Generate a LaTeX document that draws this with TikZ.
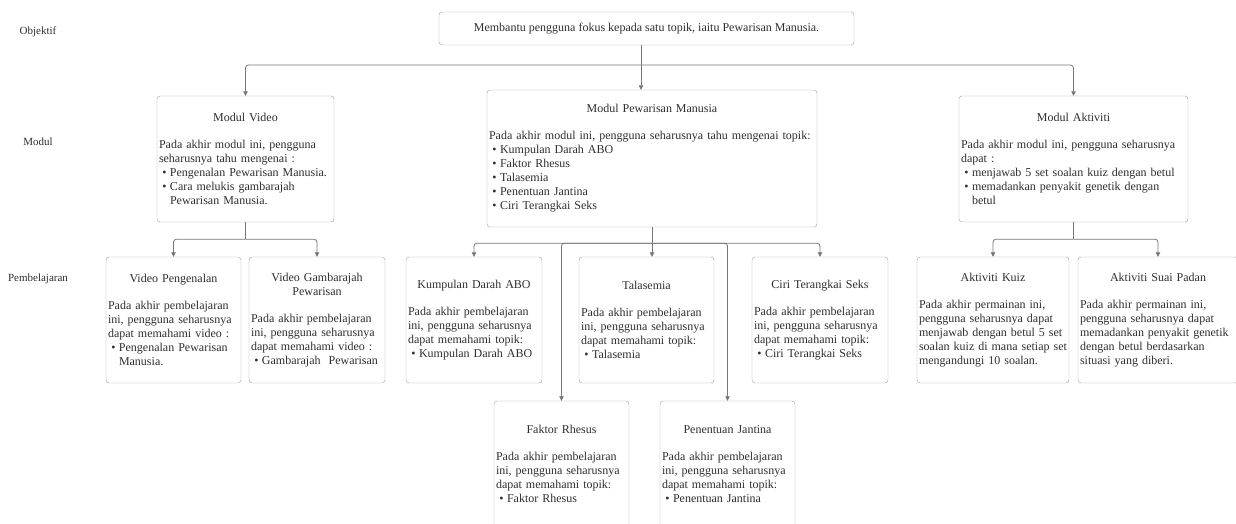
\documentclass[tikz,border=0pt]{standalone}
\usepackage{fontspec}
\setmainfont{Liberation Serif}
\usepackage{xcolor}
\usepackage{tikz}
\usetikzlibrary{arrows.meta, positioning}

\definecolor{textgray}{HTML}{2E2E2E}
\definecolor{boxgray}{HTML}{9C9C9C}
\definecolor{linegray}{HTML}{767676}

\newcommand{\boxfont}{\fontsize{12}{14}\selectfont}
\newcommand{\ttl}[1]{{\centering #1\par}\vspace{13pt}}
\newcommand{\bul}{\makebox[11pt][c]{\textbullet}}
\newcommand{\ind}{\hspace*{11pt}}

\tikzset{
  objbox/.style={rectangle, draw=boxgray, rounded corners=3pt, text=textgray,
                 minimum width=415pt, minimum height=33pt, font=\boxfont},
  modbox/.style={rectangle, draw=boxgray, rounded corners=3pt, text=textgray,
                 align=left, inner xsep=2pt, minimum height=126pt, font=\boxfont},
  learnbox/.style={modbox, text width=131pt},
  lanelabel/.style={font=\fontsize{11}{13}\selectfont, text=textgray},
}

\begin{document}
\begin{tikzpicture}[
  x=1pt, y=-1pt,
  link/.style={draw=linegray, line width=0.8pt, rounded corners=3pt},
  arrow/.style={link, -{Stealth[length=4.5pt, width=4.5pt, inset=0pt]}}
]
  \useasboundingbox (0,0) rectangle (1236,524);

  % Row labels
  \node (lobj) at (38,32) [lanelabel] {Objektif};
  \node (lmod) at (38,142) [lanelabel] {Modul};
  \node (lbel) at (38,279) [lanelabel] {Pembelajaran};

  % Objective
  \node (obj) at (646.5,28.5) [objbox] {Membantu pengguna fokus kepada satu topik, iaitu Pewarisan Manusia.};

  % Modules
  \node (mvideo) at (245.5,159) [modbox, text width=173pt] {\ttl{Modul Video}
    Pada akhir modul ini, pengguna\\
    seharusnya tahu mengenai :\\
    \bul Pengenalan Pewarisan Manusia.\\
    \bul Cara melukis gambarajah\\
    \ind Pewarisan Manusia.};
  \node (mpewaris) at (652,158.5) [modbox, text width=326pt, minimum height=137pt] {\ttl{Modul Pewarisan Manusia}
    Pada akhir modul ini, pengguna seharusnya tahu mengenai topik:\\
    \bul Kumpulan Darah ABO\\
    \bul Faktor Rhesus\\
    \bul Talasemia\\
    \bul Penentuan Jantina\\
    \bul Ciri Terangkai Seks};
  \node (maktiv) at (1073.5,159) [modbox, text width=225pt] {\ttl{Modul Aktiviti}
    Pada akhir modul ini, pengguna seharusnya\\
    dapat :\\
    \bul menjawab 5 set soalan kuiz dengan betul\\
    \bul memadankan penyakit genetik dengan\\
    \ind betul};

  % Learning units
  \node (vpengenal) at (173.5,320) [learnbox] {\ttl{Video Pengenalan}
    Pada akhir pembelajaran\\
    ini, pengguna seharusnya\\
    dapat memahami video :\\
    \bul Pengenalan Pewarisan\\
    \ind Manusia.};
  \node (vgambar) at (317,320) [learnbox, text width=132pt] {\ttl{Video Gambarajah\\Pewarisan}
    Pada akhir pembelajaran\\
    ini, pengguna seharusnya\\
    dapat memahami video :\\
    \bul Gambarajah\ \ Pewarisan};
  \node (kumpulan) at (474,320) [learnbox, text width=132pt] {\ttl{Kumpulan Darah ABO}
    Pada akhir pembelajaran\\
    ini, pengguna seharusnya\\
    dapat memahami topik:\\
    \bul Kumpulan Darah ABO};
  \node (talasemia) at (646.5,320) [learnbox] {\ttl{Talasemia}
    Pada akhir pembelajaran\\
    ini, pengguna seharusnya\\
    dapat memahami topik:\\
    \bul Talasemia};
  \node (ciri) at (820,320) [learnbox, text width=132pt] {\ttl{Ciri Terangkai Seks}
    Pada akhir pembelajaran\\
    ini, pengguna seharusnya\\
    dapat memahami topik:\\
    \bul Ciri Terangkai Seks};
  \node (faktor) at (561.5,464) [learnbox] {\ttl{Faktor Rhesus}
    Pada akhir pembelajaran\\
    ini, pengguna seharusnya\\
    dapat memahami topik:\\
    \bul Faktor Rhesus};
  \node (penentuan) at (727.5,464) [learnbox] {\ttl{Penentuan Jantina}
    Pada akhir pembelajaran\\
    ini, pengguna seharusnya\\
    dapat memahami topik:\\
    \bul Penentuan Jantina};
  \node (akuiz) at (993,320) [learnbox, text width=148pt] {\ttl{Aktiviti Kuiz}
    Pada akhir permainan ini,\\
    pengguna seharusnya dapat\\
    menjawab dengan betul 5 set\\
    soalan kuiz di mana setiap set\\
    mengandungi 10 soalan.};
  \node (asuai) at (1158,320) [learnbox, text width=156pt] {\ttl{Aktiviti Suai Padan}
    Pada akhir permainan ini,\\
    pengguna seharusnya dapat\\
    memadankan penyakit genetik\\
    dengan betul berdasarkan\\
    situasi yang diberi.};

  % Objective to modules
  \coordinate (objfork) at (641,65);
  \draw[link] (obj.south -| objfork) -- (objfork);
  \draw[arrow] (objfork) -- (objfork |- mpewaris.north);
  \draw[arrow] (objfork) -| (mvideo.north);
  \draw[arrow] (objfork) -| (maktiv.north);

  % Modul Video
  \draw[link] (mvideo.south) -- ++(0,17) coordinate (vidfork);
  \draw[arrow] (vidfork) -| (vpengenal.north);
  \draw[arrow] (vidfork) -| (vgambar.north);

  % Modul Pewarisan Manusia
  \draw[link] (mpewaris.south) -- ++(0,16) coordinate (pewfork);
  \draw[arrow] (pewfork) -- (pewfork |- talasemia.north);
  \draw[arrow] (pewfork) -| (kumpulan.north);
  \draw[arrow] (pewfork) -| (faktor.north);
  \draw[arrow] (pewfork) -| (penentuan.north);
  \draw[arrow] (pewfork) -| (ciri.north);

  % Modul Aktiviti
  \draw[link] (maktiv.south) -- ++(0,17) coordinate (aktfork);
  \draw[arrow] (aktfork) -| (akuiz.north);
  \draw[arrow] (aktfork) -| (asuai.north);

\end{tikzpicture}
\end{document}
